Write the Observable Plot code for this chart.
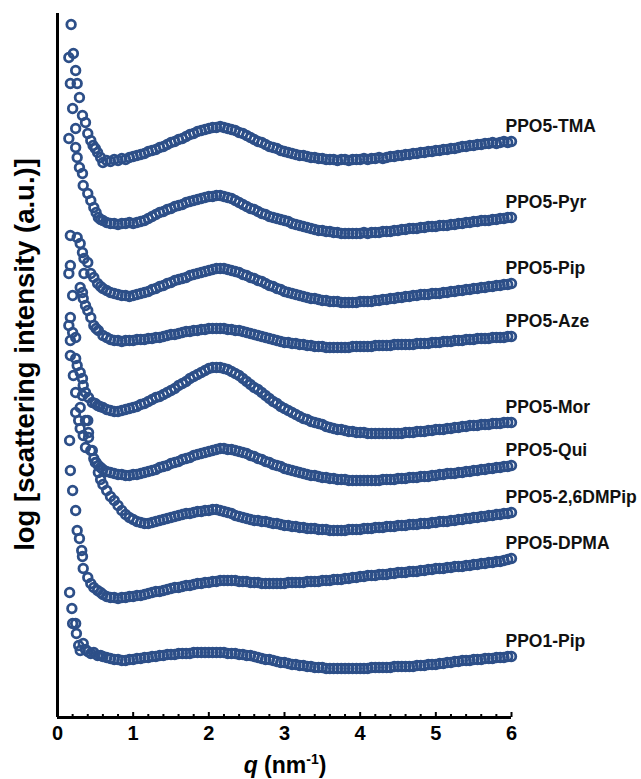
<!DOCTYPE html>
<html>
<head>
<meta charset="utf-8">
<script src="https://cdn.jsdelivr.net/npm/d3@7"></script>
<script src="https://cdn.jsdelivr.net/npm/@observablehq/plot@0.6"></script>
<style>
  body { margin: 0; background: #fff; }
  #wrap { width: 641px; height: 779px; position: relative; font-family: "Liberation Sans", Arial, sans-serif; }
  #xlabel { margin-left: 57px; width: 456px; text-align: center; font-weight: bold; font-size: 23px; line-height: 27px; padding-top: 2px; color: #000; }
  #xlabel sup { font-size: 14px; line-height: 0; }
</style>
</head>
<body>
<div id="wrap"></div>
<script>
// Series names (top to bottom)
const names = ["PPO5-TMA", "PPO5-Pyr", "PPO5-Pip", "PPO5-Aze", "PPO5-Mor", "PPO5-Qui", "PPO5-2,6DMPip", "PPO5-DPMA", "PPO1-Pip"];

// x tick labels
const majorTicks = [0, 1, 2, 3, 4, 5, 6];
const minorTicks = [0.2,0.4,0.6,0.8,1.2,1.4,1.6,1.8,2.2,2.4,2.6,2.8,3.2,3.4,3.6,3.8,4.2,4.4,4.6,4.8,5.2,5.4,5.6,5.8];

// Sampling grid for the main part of each curve: q = 0.60 ... 6.00 nm^-1 (step 0.05)
const qGrid = d3.range(109).map(i => +(0.6 + 0.05 * i).toFixed(2));

// log scattering intensity (a.u., curves offset vertically), on qGrid
const bodyTMA = [
555,557,556,558,557,559,558,560,561,562,
563,564,566,567,568,570,571,573,575,576,
578,579,581,583,584,586,587,588,589,590,
590,591,590,589,588,587,585,584,582,580,
578,576,575,573,571,570,569,567,566,565,
564,563,562,562,561,560,560,559,559,558,
558,558,557,558,558,557,558,558,558,559,
558,559,559,560,559,560,561,561,562,562,
563,563,564,564,565,565,566,566,567,567,
568,568,569,569,570,571,571,572,572,573,
573,574,574,575,574,575,576,575,576];
const bodyPyr = [
497,495,494,494,493,494,494,495,494,495,
496,497,499,501,503,505,506,508,509,511,
512,513,515,516,517,518,519,520,521,521,
522,522,521,520,519,517,515,513,511,509,
508,506,504,503,501,500,499,498,497,496,
494,493,492,491,490,489,488,487,487,486,
486,485,485,484,484,484,484,484,484,485,
484,485,485,485,486,486,486,487,487,488,
488,489,489,489,490,490,491,491,491,492,
492,492,493,493,494,494,495,495,496,496,
497,497,497,498,498,499,499,500,500];
const bodyPip = [
429,427,425,424,423,422,422,421,422,423,
424,425,426,428,429,431,432,434,435,437,
438,439,440,442,443,444,445,446,447,448,
449,449,449,448,447,446,445,443,442,440,
439,437,436,434,432,431,429,428,426,425,
424,423,422,421,420,419,419,418,417,417,
416,416,416,415,415,415,415,415,416,416,
416,416,417,417,418,418,419,419,420,420,
421,421,422,422,423,423,423,424,424,424,
425,425,426,426,427,427,428,428,429,429,
430,430,431,431,432,432,433,433,434];
const bodyAze = [
382,380,378,377,377,376,377,377,377,378,
378,378,379,379,380,380,381,382,383,383,
384,385,386,386,387,387,388,388,389,389,
389,389,389,388,388,387,387,386,385,384,
383,382,381,380,379,378,377,376,375,375,
374,374,373,373,372,372,371,371,371,370,
370,370,370,370,370,370,371,371,371,371,
371,371,372,372,372,372,372,373,373,373,
373,373,373,374,374,374,374,375,375,375,
376,376,376,377,377,377,378,378,378,379,
379,379,379,380,380,380,380,381,381];
const bodyMor = [
310,308,307,306,306,307,308,309,310,311,
313,314,316,318,320,321,323,325,327,329,
332,334,336,339,341,343,345,347,349,350,
350,350,349,348,346,344,342,339,336,333,
330,328,325,322,319,316,314,311,309,307,
305,303,301,299,298,296,295,294,293,291,
290,289,288,288,287,286,286,285,285,285,
284,284,284,284,284,284,284,284,284,284,
285,285,285,286,286,286,287,287,288,288,
288,289,289,290,290,291,291,292,292,292,
293,293,293,294,294,294,295,295,295];
const bodyQui = [
248,246,245,244,243,243,242,242,243,243,
244,245,246,247,248,250,251,252,254,255,
256,258,259,260,262,263,264,265,266,267,
268,269,269,268,268,267,266,265,264,262,
261,259,258,256,255,253,252,251,249,248,
247,246,245,244,243,242,242,241,240,240,
239,239,238,238,238,237,237,237,237,237,
237,237,237,237,238,238,238,238,239,239,
239,240,240,240,241,241,241,242,242,243,
243,244,244,244,245,245,246,246,247,247,
248,248,249,249,250,250,251,251,252];
const bodyDMPip = [
233,227,221,217,212,207,203,200,198,196,
195,194,194,195,196,197,198,199,200,201,
202,203,204,204,205,206,206,207,207,208,
208,207,206,205,204,202,201,200,199,198,
197,197,196,196,195,194,194,193,192,192,
191,191,190,190,189,189,189,188,188,188,
187,187,187,187,187,188,188,188,188,189,
189,189,190,190,190,191,191,191,192,192,
192,193,193,193,194,194,194,195,195,196,
196,196,197,197,198,198,199,199,200,200,
201,201,202,202,203,203,204,204,205];
const bodyDPMA = [
123,121,120,120,119,120,120,121,121,122,
122,123,124,125,126,126,127,128,129,130,
130,131,132,132,133,134,134,135,135,136,
136,137,137,137,137,137,136,136,136,135,
135,135,134,134,134,134,134,134,134,135,
135,135,135,135,136,136,136,136,137,137,
137,138,138,138,139,139,140,140,141,141,
142,142,142,143,143,143,144,144,145,145,
145,146,146,146,147,147,148,148,149,149,
149,150,150,151,151,151,152,152,153,153,
154,154,155,155,156,156,157,158,159];
const bodyPPO1 = [
61,60,59,58,58,57,57,58,58,59,
59,60,60,61,61,62,62,63,63,63,
64,64,64,64,65,65,65,65,65,65,
65,65,65,64,64,64,63,63,62,62,
61,60,59,58,58,57,56,55,55,54,
53,53,52,52,51,51,50,50,50,49,
49,49,49,49,49,49,49,49,49,49,
49,50,50,50,50,50,50,51,51,51,
51,51,51,52,52,52,53,53,53,54,
54,55,55,56,56,57,57,57,58,58,
58,59,59,59,60,60,60,61,61];

// Low-q upturn points [q, log I]
const tailTMA = [[0.15,660],[0.18,693],[0.21,664],[0.24,647],[0.26,634],[0.29,620],[0.33,602],[0.37,595],[0.40,584],[0.44,577],[0.47,572],[0.50,569],[0.53,565],[0.57,560]];
const tailPyr = [[0.15,579],[0.17,634],[0.20,609],[0.24,589],[0.24,570],[0.26,560],[0.29,550],[0.33,544],[0.34,532],[0.40,524],[0.44,517],[0.48,510],[0.51,505],[0.54,500],[0.57,498]];
const tailPip = [[0.15,444],[0.17,482],[0.17,452],[0.20,422],[0.26,480],[0.30,474],[0.33,465],[0.35,459],[0.35,444],[0.40,455],[0.44,444],[0.48,440],[0.53,434],[0.57,431]];
const tailAze = [[0.15,392],[0.17,400],[0.17,377],[0.20,385],[0.24,380],[0.30,430],[0.33,425],[0.34,419],[0.37,412],[0.40,407],[0.44,400],[0.48,392],[0.51,389],[0.54,387]];
const tailMor = [[0.17,362],[0.21,342],[0.24,359],[0.24,325],[0.26,352],[0.30,345],[0.33,339],[0.34,332],[0.37,325],[0.41,320],[0.46,315],[0.50,314],[0.53,312],[0.56,311]];
const tailQui = [[0.16,277],[0.24,305],[0.28,297],[0.30,289],[0.34,282],[0.37,270],[0.40,297],[0.41,285],[0.44,267],[0.48,259],[0.51,255],[0.54,252],[0.57,250]];
const tailDMPip = [[0.17,247],[0.30,310],[0.33,322],[0.37,297],[0.41,280],[0.46,267],[0.50,255],[0.54,245],[0.57,238]];
const tailDPMA = [[0.20,227],[0.24,207],[0.26,187],[0.29,179],[0.32,167],[0.33,161],[0.34,149],[0.40,140],[0.44,134],[0.48,130],[0.53,127],[0.57,125]];
const tailPPO1 = [[0.16,125],[0.19,109],[0.20,94],[0.24,94],[0.25,84],[0.28,72],[0.30,67],[0.34,74],[0.37,68],[0.40,66],[0.44,64],[0.48,65],[0.53,62],[0.57,62]];

const bodies = [bodyTMA, bodyPyr, bodyPip, bodyAze, bodyMor, bodyQui, bodyDMPip, bodyDPMA, bodyPPO1];
const tails = [tailTMA, tailPyr, tailPip, tailAze, tailMor, tailQui, tailDMPip, tailDPMA, tailPPO1];

const points = [];
const labels = [];
names.forEach((name, i) => {
  tails[i].forEach(([q, v]) => points.push({name, q, v}));
  bodies[i].forEach((v, j) => points.push({name, q: qGrid[j], v}));
  labels.push({name, q: qGrid[qGrid.length - 1], v: bodies[i][bodies[i].length - 1]});
});

const color = "#2d4f88";

const chart = Plot.plot({
  width: 641,
  height: 750,
  marginLeft: 57,
  marginRight: 130,
  marginTop: 13,
  marginBottom: 33,
  style: {fontFamily: "'Liberation Sans', Arial, sans-serif", background: "white", overflow: "visible"},
  x: {domain: [0, 6]},
  y: {domain: [0, 704]},
  marks: [
    Plot.dot(points, {x: "q", y: "v", r: 4.3, stroke: color, strokeWidth: 2.8, fill: "none"}),
    Plot.text(labels, {x: "q", y: "v", text: "name", textAnchor: "start", lineAnchor: "bottom", dx: -6, dy: -10, fontSize: 17.5, fontWeight: "bold", fill: "#111"}),
    Plot.axisX({ticks: minorTicks, tickSize: -3, tickFormat: () => "", strokeWidth: 2, stroke: "#000", label: null}),
    Plot.axisX({ticks: majorTicks, tickSize: -5, tickPadding: 13, tickFormat: d => String(d), strokeWidth: 2, stroke: "#000", fontSize: 20, fontWeight: "bold", fill: "#000", label: null}),
    Plot.axisY({ticks: [], label: null}),
    Plot.ruleY([0], {stroke: "#000", strokeWidth: 3}),
    Plot.ruleX([0], {stroke: "#000", strokeWidth: 3}),
    Plot.text(["log [scattering intensity (a.u.)]"], {frameAnchor: "left", rotate: -90, dx: -32, dy: -11, fontSize: 27.5, fontWeight: "bold", fill: "#000", textAnchor: "middle"})
  ]
});

const wrap = document.getElementById("wrap");
wrap.appendChild(chart);
const xl = document.createElement("div");
xl.id = "xlabel";
xl.innerHTML = "<i>q</i> (nm<sup>-1</sup>)";
wrap.appendChild(xl);
</script>
</body>
</html>
